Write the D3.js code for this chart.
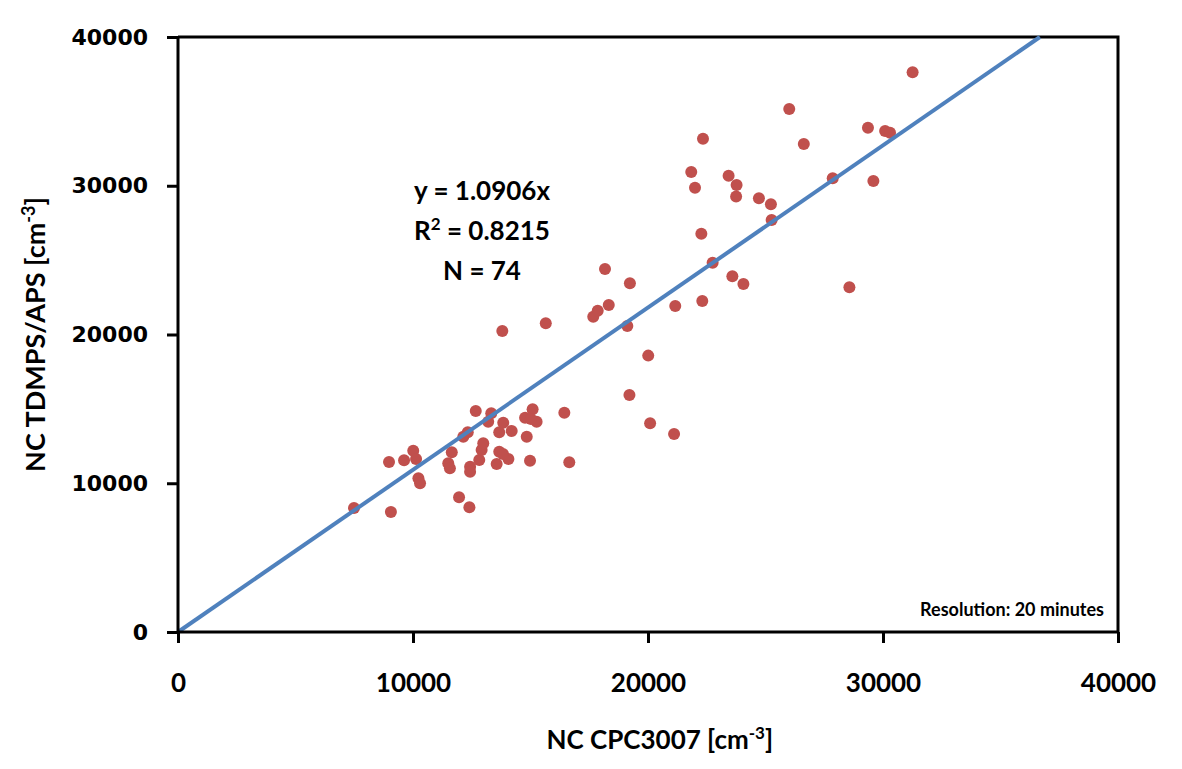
<!DOCTYPE html>
<html>
<head>
<meta charset="utf-8">
<script src="https://cdnjs.cloudflare.com/ajax/libs/d3/7.8.5/d3.min.js"></script>
<style>
  body { margin: 0; background: #fff; }
  svg { display: block; }
</style>
</head>
<body>
<svg class="main"></svg>
<script>
let cpcValues = [7490, 9060, 8980, 9620, 10010, 10130, 10230, 10300, 11500, 11570,
    11650, 11960, 12140, 12330, 12400, 12430, 12430, 12670, 12820, 12920,
    12990, 13200, 13330, 13560, 13670, 13670, 13840, 13800, 14060, 14200,
    14770, 14840, 14980, 15090, 15260, 15650, 16440, 16650, 17670, 17860,
    18170, 18330, 19120, 19230, 19210, 20010, 20090, 21160, 21110, 21840,
    22000, 22340, 22310, 22270, 22750, 23430, 23590, 23770, 23750, 24060,
    24720, 25230, 25260, 26010, 26630, 27860, 28570, 29360, 30090, 30300,
    29590, 31260, 13830, 15020],
    tdmpsValues = [8340, 8070, 11430, 11540, 12190, 11630, 10330, 10000, 11340, 11010,
    12080, 9060, 13130, 13430, 8380, 11110, 10780, 14860, 11560, 12240,
    12690, 14140, 14700, 11290, 13430, 12120, 14070, 20240, 11630, 13510,
    14410, 13130, 11520, 14970, 14140, 20750, 14740, 11410, 21200, 21600,
    24400, 21980, 20570, 23440, 15930, 18580, 14030, 21920, 13310, 30920,
    29870, 33160, 22250, 26780, 24830, 30680, 23910, 30050, 29270, 23400,
    29160, 28750, 27700, 35160, 32810, 30500, 23170, 33900, 33680, 33570,
    30320, 37630, 11970, 14320],
    slope = 1.0906,
    xTicks = [0, 10000, 20000, 30000, 40000],
    yTicks = [0, 10000, 20000, 30000, 40000],
    fitLabels = ['y = 1.0906x', 'R2 = 0.8215', 'N = 74'],
    noteLabel = 'Resolution: 20 minutes';

let w = 1182, h = 769;
let marginLeft = 178, marginTop = 37, plotW = 940, plotH = 595;

let svg = d3.select('.main')
    .attr('width', w)
    .attr('height', h);

let x = d3.scaleLinear().domain([0, 40000]).range([marginLeft, marginLeft + plotW]);
let y = d3.scaleLinear().domain([0, 40000]).range([marginTop + plotH, marginTop]);

let pts = cpcValues.map((v, i) => ({x: v, y: tdmpsValues[i]}));

// frame (top + right) of the plot area
svg.append('path')
    .attr('d', `M${x(0)},${y(40000)}H${x(40000)}V${y(0)}`)
    .attr('fill', 'none')
    .attr('stroke', '#000')
    .attr('stroke-width', 3);

svg.append('g')
    .selectAll('circle')
    .data(pts)
    .enter()
    .append('circle')
    .attr('cx', d => x(d.x))
    .attr('cy', d => y(d.y))
    .attr('r', 6)
    .attr('fill', '#C0504D');

let xEnd = 40000 / slope;
svg.append('line')
    .attr('x1', x(0))
    .attr('y1', y(0))
    .attr('x2', x(xEnd))
    .attr('y2', y(slope * xEnd))
    .attr('stroke', '#4F81BD')
    .attr('stroke-width', 4);

let xAxis = svg.append('g')
    .attr('transform', `translate(0,${y(0)})`)
    .call(d3.axisBottom(x).tickValues(xTicks).tickSize(11).tickPadding(31).tickFormat(d3.format('d')));
xAxis.select('.domain').attr('stroke-width', 3).attr('d', `M${x(0)},0H${x(40000)}`);
xAxis.selectAll('.tick line').attr('stroke-width', 3);
xAxis.selectAll('.tick text')
    .attr('fill', '#000')
    .style('font-family', 'Lato, sans-serif')
    .style('font-weight', 'bold')
    .style('font-size', '26px');

let yAxis = svg.append('g')
    .attr('transform', `translate(${x(0)},0)`)
    .call(d3.axisLeft(y).tickValues(yTicks).tickSize(11).tickPadding(19).tickFormat(d3.format('d')));
yAxis.select('.domain').attr('stroke-width', 3).attr('d', `M0,${y(0)}V${y(40000)}`);
yAxis.selectAll('.tick line').attr('stroke-width', 3);
yAxis.selectAll('.tick text')
    .attr('fill', '#000')
    .style('font-family', '"DejaVu Sans", sans-serif')
    .style('font-weight', 'bold')
    .style('font-size', '22px');

let titleFont = t => t.style('font-family', 'Lato, sans-serif')
    .style('font-weight', 'bold')
    .style('font-size', '26px')
    .attr('fill', '#000');

let xTitle = svg.append('text')
    .attr('x', x(20500))
    .attr('y', 749)
    .attr('text-anchor', 'middle')
    .call(titleFont);
xTitle.append('tspan').text('NC CPC3007 [cm');
xTitle.append('tspan').text('-3').attr('dy', -10).style('font-size', '17px');
xTitle.append('tspan').text(']').attr('dy', 10);

let yTitle = svg.append('text')
    .attr('transform', `translate(45,${y(20000)}) rotate(-90)`)
    .attr('text-anchor', 'middle')
    .call(titleFont)
    .style('font-size', '27px');
yTitle.append('tspan').text('NC TDMPS/APS [cm');
yTitle.append('tspan').text('-3').attr('dy', -10).style('font-size', '18px');
yTitle.append('tspan').text(']').attr('dy', 10);

// fit annotation
let fitX = 482;
svg.append('text').attr('x', fitX).attr('y', 200).attr('text-anchor', 'middle')
    .call(titleFont).text(fitLabels[0]);
let r2 = svg.append('text').attr('x', fitX).attr('y', 240).attr('text-anchor', 'middle')
    .call(titleFont);
r2.append('tspan').text('R');
r2.append('tspan').text('2').attr('dy', -10).style('font-size', '17px');
r2.append('tspan').text(fitLabels[1].slice(2)).attr('dy', 10);
svg.append('text').attr('x', fitX).attr('y', 280).attr('text-anchor', 'middle')
    .call(titleFont).text(fitLabels[2]);

svg.append('text')
    .attr('x', 1104)
    .attr('y', 616)
    .attr('text-anchor', 'end')
    .style('font-family', 'Lato, sans-serif')
    .style('font-weight', 'bold')
    .style('font-size', '18px')
    .attr('fill', '#000')
    .text(noteLabel);
</script>
</body>
</html>
